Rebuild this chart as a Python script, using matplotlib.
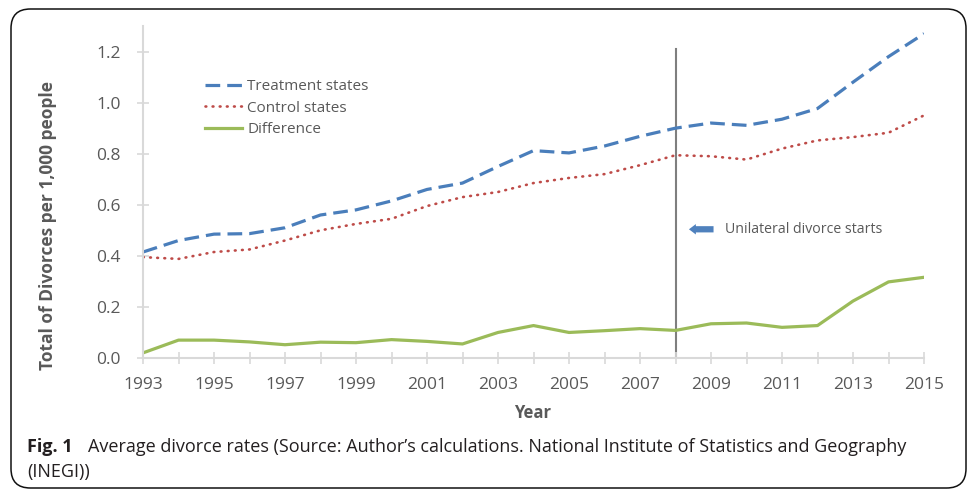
import matplotlib.pyplot as plt
from matplotlib.patches import FancyBboxPatch

years = list(range(1993, 2016))
treatment = [0.415, 0.46, 0.485, 0.487, 0.51, 0.56, 0.58, 0.615, 0.66, 0.685, 0.75, 0.812,
             0.803, 0.83, 0.868, 0.90, 0.92, 0.911, 0.935, 0.977, 1.08, 1.18, 1.27]
control = [0.395, 0.388, 0.415, 0.425, 0.46, 0.50, 0.525, 0.545, 0.595, 0.63, 0.65, 0.685,
           0.705, 0.72, 0.755, 0.794, 0.79, 0.777, 0.82, 0.852, 0.865, 0.882, 0.95]
difference = [0.02, 0.07, 0.07, 0.063, 0.052, 0.062, 0.06, 0.072, 0.065, 0.055, 0.10, 0.127,
              0.10, 0.107, 0.115, 0.108, 0.134, 0.137, 0.12, 0.127, 0.223, 0.298, 0.316]
reform_year = 2008

plt.rcParams['font.family'] = ['Open Sans', 'DejaVu Sans']
gray = '#595959'
axis_gray = '#d9d9d9'

fig = plt.figure(figsize=(9.69, 4.92), dpi=100)
W, H = 969, 492

# rounded frame around the whole figure
frame = FancyBboxPatch((11 / W, 4 / H), 955 / W, 479 / H,
                       boxstyle='round,pad=0,rounding_size=0.02',
                       transform=fig.transFigure, fill=False,
                       edgecolor='#111111', linewidth=1.1, mutation_aspect=W / H)
fig.patches.append(frame)

ax = fig.add_axes([143 / W, 1 - 358 / H, 781 / W, 332 / H])

ax.plot(years, treatment, color='#4A7EBB', lw=2.3, dashes=(4.6, 2.2), label='Treatment states')
ax.plot(years, control, color='#BE4B48', lw=1.9, linestyle=(0, (0.3, 2.4)),
        dash_capstyle='round', label='Control states')
ax.plot(years, difference, color='#9BBB59', lw=2.3, label='Difference')

ax.plot([reform_year, reform_year], [0, 1.21], color='#7f7f7f', lw=1.5, zorder=1)
ax.annotate('', xy=(2008.3, 0.504), xytext=(2009.15, 0.504),
            arrowprops=dict(arrowstyle='simple,head_length=0.5,head_width=0.75,tail_width=0.45',
                            color='#4F81BD', lw=0))
ax.text(2009.4, 0.504, 'Unilateral divorce starts', color=gray, fontsize=10.2,
        va='center', ha='left')

ax.set_xlim(1993, 2015)
ax.set_ylim(0, 1.3)
ax.set_xticks(years)
ax.set_xticklabels([str(y) if (y - 1993) % 2 == 0 else '' for y in years])
ax.set_yticks([0, 0.2, 0.4, 0.6, 0.8, 1.0, 1.2])
ax.set_yticklabels(['0.0', '0.2', '0.4', '0.6', '0.8', '1.0', '1.2'])

for s in ['top', 'right']:
    ax.spines[s].set_visible(False)
for s in ['left', 'bottom']:
    ax.spines[s].set_color(axis_gray)
    ax.spines[s].set_linewidth(1.5)
ax.tick_params(axis='both', colors=axis_gray, labelcolor=gray, labelsize=12.5,
               direction='inout', width=1.2)
ax.tick_params(axis='x', length=9, pad=9)
ax.tick_params(axis='y', length=8, pad=12)

ax.set_xlabel('Year', fontsize=12, fontweight='bold', color=gray)
ax.xaxis.set_label_coords((533 - 143) / 781, -(413 - 358) / 332)
ax.set_ylabel('Total of Divorces per 1,000 people', fontsize=12.5, fontweight='bold',
              color=gray)
ax.yaxis.set_label_coords((48 - 143) / 781, (358 - 226) / 332)
ax.xaxis.label.set_va('center')
ax.yaxis.label.set_va('center')

leg = ax.legend(loc='upper left', bbox_to_anchor=(0.08, 0.84), frameon=False,
                fontsize=11, handlelength=2.4, handletextpad=0.35, labelspacing=0.42,
                borderpad=0, borderaxespad=0)
for t in leg.get_texts():
    t.set_color(gray)

fig.text(27 / W, 1 - 447 / H, 'Fig. 1', fontsize=13, fontweight='bold',
         va='center', ha='left', color='#231f20')
fig.text(88 / W, 1 - 447 / H,
         'Average divorce rates (Source: Author\u2019s calculations. National Institute of Statistics and Geography',
         fontsize=13, va='center', ha='left', color='#231f20')
fig.text(27 / W, 1 - 472 / H, '(INEGI))', fontsize=13, va='center', ha='left', color='#231f20')

fig.savefig('out.png', dpi=100)
